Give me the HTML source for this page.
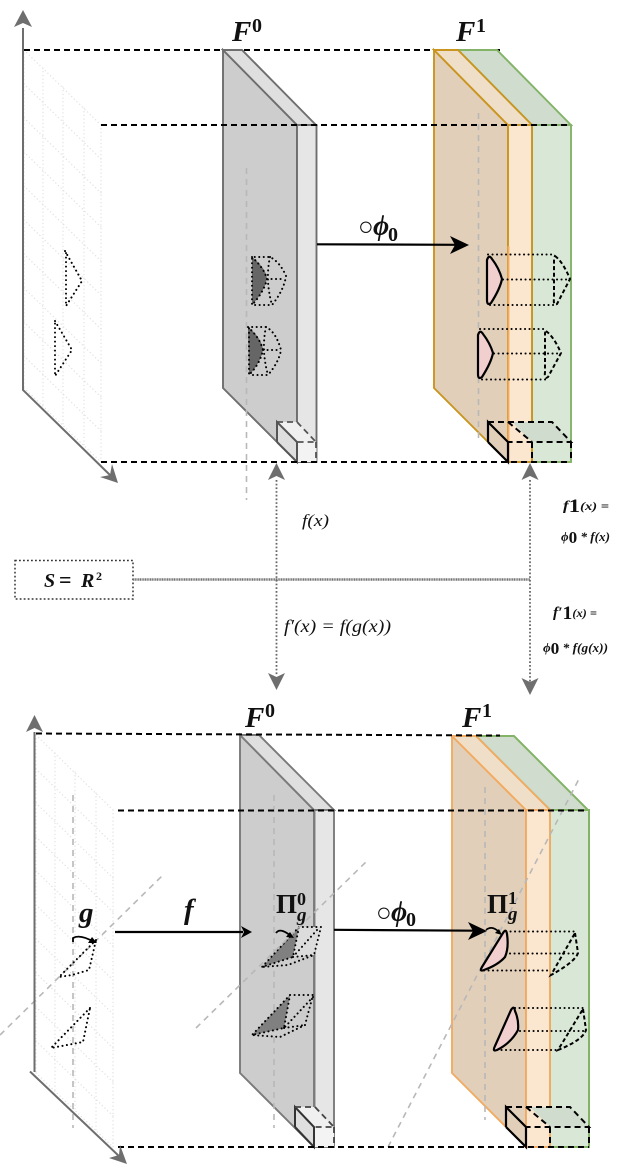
<!DOCTYPE html>
<html>
<head>
<meta charset="utf-8">
<style>
html,body{margin:0;padding:0;background:#fff}
svg{display:block}
text{font-family:"Liberation Serif","DejaVu Serif",serif;font-style:italic;fill:#111}
.b{font-weight:bold}
.n{font-style:normal}
.dash{fill:none;stroke:#000;stroke-width:2;stroke-dasharray:6 4}
.dot{fill:none;stroke:#000;stroke-width:2;stroke-dasharray:.1 4.4;stroke-linecap:round}
.sd{fill:none;stroke:#000;stroke-width:2;stroke-dasharray:6 4}
.md{fill:none;stroke:#000;stroke-width:2;stroke-dasharray:4 2.6}
.g{fill:none;stroke:#b8b8b8;stroke-width:1.6;stroke-dasharray:6 5}
.solid{fill:none;stroke:#000;stroke-width:2.2}
.ax{fill:none;stroke:#6e6e6e;stroke-width:2}
.ah{fill:#6e6e6e;stroke:none}
.pk{fill:#f1cfcf;stroke:#000;stroke-width:2.200}
.grid line{stroke:#e0e0e0;stroke-width:1.300;stroke-dasharray:.1 3.6;stroke-linecap:round}
</style>
</head>
<body>
<svg width="640" height="1174" viewBox="0 0 640 1174" xmlns="http://www.w3.org/2000/svg">
<defs>
<g id="grid" class="grid">
<line x1="0" y1="0" x2="0" y2="338"/><line x1="19" y1="18" x2="19" y2="356"/><line x1="39" y1="37" x2="39" y2="376"/><line x1="60" y1="58" x2="60" y2="396"/><line x1="77" y1="75" x2="77" y2="412"/>
<line x1="0" y1="0" x2="77" y2="75"/><line x1="0" y1="34" x2="77" y2="109"/><line x1="0" y1="68" x2="77" y2="143"/><line x1="0" y1="102" x2="77" y2="177"/><line x1="0" y1="136" x2="77" y2="211"/><line x1="0" y1="170" x2="77" y2="245"/><line x1="0" y1="204" x2="77" y2="279"/><line x1="0" y1="238" x2="77" y2="313"/><line x1="0" y1="272" x2="77" y2="347"/><line x1="0" y1="306" x2="77" y2="381"/><line x1="0" y1="338" x2="77" y2="412"/>
</g>
</defs>

<!-- TOP DIAGRAM -->
<use href="#grid" transform="translate(24,50)"/>
<path class="dash" d="M24 50H500"/>

<!-- F0 top -->
<polygon points="223,50 297,125 297,462 223,388" fill="#cdcdcd" stroke="#6e6e6e" stroke-width="1.900"/>
<polygon points="223,50 242,50 316,125 297,125" fill="#dfdfdf" stroke="#6e6e6e" stroke-width="1.900"/>
<rect x="297" y="125" width="19.500" height="337" fill="#e6e6e6" stroke="#6e6e6e" stroke-width="1.900"/>
<!-- F0 cube -->
<polygon points="277,422 297,422 316,442 297,442" fill="#f0f0f0"/>
<polygon points="277,422 297,442 297,462 277,442" fill="#dfdfdf"/>
<rect x="297" y="442" width="19.500" height="20" fill="#f3f3f3"/>
<path d="M277 442V422L297 442V462L277 442" fill="none" stroke="#555" stroke-width="2"/>
<path d="M277 422H297L316 442H297M316 442V462" fill="none" stroke="#555" stroke-width="1.800" stroke-dasharray="6 4"/>
<path class="g" d="M246.500 168V500"/>
<!-- F0 marks -->
<path d="M252 257Q266 268 267 279Q264 292 252 305Z" fill="#666"/>
<path class="dot" d="M252 257Q264 268 267 279Q264 292 252 305V257H270Q280 262 286 276Q284 290 272 305H252M267 279H285M270 257Q265 280 272 305"/>
<path d="M248 327Q262 338 263 350Q260 364 249 375Z" fill="#666"/>
<path class="dot" d="M248 327Q260 338 263 350Q260 364 249 375V327H266Q276 332 281 350Q279 362 268 375H249M263 350H280M266 327Q261 350 268 375"/>

<!-- F1 top -->
<polygon points="458,50 497,50 571,125 532,125" fill="#d0dccd" stroke="#82b366" stroke-width="1.900"/>
<rect x="532" y="125" width="39" height="337" fill="#d9e8d6" stroke="#82b366" stroke-width="1.900"/>
<polygon points="434,50 508,125 508,462 434,388" fill="#e1cfba" stroke="#c9951f" stroke-width="1.900"/>
<polygon points="434,50 458,50 532,125 508,125" fill="#f0dfc8" stroke="#c9951f" stroke-width="1.900"/>
<rect x="508" y="125" width="24" height="337" fill="#fbe6d0" stroke="#c9951f" stroke-width="1.900"/>
<path d="M508.500 246V462" stroke="#f5ab5f" stroke-width="1.900" fill="none"/>
<polygon points="552,422 571,442 532,442 512,422" fill="#d0dccd"/>
<polygon points="488,422 508,442 508,462 488,442" fill="#e1cfba"/>
<path d="M488 442V422L508 442V462L488 442" class="solid"/>
<path class="sd" d="M488 422H552L571 442H508M571 442V462M532 442V462M508 422L532 442"/>
<path class="g" d="M478.500 113V442"/>
<!-- F1 marks -->
<path class="pk" d="M487 260Q489 254 492 259Q499 268 502 279Q500 289 491 303Q487 306 487 300Z"/>
<path class="pk" d="M478 335Q480 329 483 334Q490 343 493 353Q491 363 482 377Q478 380 478 374Z"/>
<path class="dot" d="M488 254.500H555M503 279.500H570M490 305H555"/>
<path class="dot" d="M480 329H546M494 353.500H561M482 379.500H546"/>
<path class="md" d="M555 256Q563 262 570 279L557 304Q553 306 554 298V258Z"/>
<path class="md" d="M546 331Q554 337 561 353L548 377Q544 380 545 372V333Z"/>

<path class="dash" d="M101 125H570"/>
<path class="dash" d="M101 462H571"/>

<!-- top left axes -->
<path class="ax" d="M23 28V390L112 477"/>
<polygon class="ah" points="23,10 32,27 23,23 14,27"/>
<polygon class="ah" points="118,483 100,477 110,475 112,464"/>
<path class="dot" d="M65 251L82 281L66 306V251"/>
<path class="dot" d="M55 321L72 350L55 376V321"/>

<!-- top arrow -->
<path d="M317 244.300L458 244.800" stroke="#000" stroke-width="2.200"/>
<polygon points="469,245 450,236 455,245 450,254" fill="#000"/>
<text x="358" y="235" font-size="26" class="n">○</text>
<text x="373" y="235" font-size="28" class="b">ϕ</text>
<text x="388" y="241" font-size="20" class="n b">0</text>

<text x="232" y="41" font-size="29" class="b">F</text>
<text x="252" y="32" font-size="20" class="n b">0</text>
<text x="456" y="41" font-size="29" class="b">F</text>
<text x="476" y="32" font-size="20" class="n b">1</text>

<!-- middle section -->
<rect x="15" y="560.500" width="118" height="38.500" fill="#fff" stroke="#333" stroke-width="1.500" stroke-dasharray="1.800 2.200"/>
<text x="44" y="587" font-size="20" class="b">S</text>
<text x="59" y="587" font-size="22" class="n b">=</text>
<text x="81" y="587" font-size="20" class="b">R</text>
<text x="96" y="580" font-size="12" class="n b">2</text>
<path d="M133 579.500H530" stroke="#777" stroke-width="2.500" stroke-dasharray="1.200 .5"/>
<path d="M276.500 480V675M530 480V682" stroke="#666" stroke-width="1.800" stroke-dasharray="1.700 2" fill="none"/>
<polygon class="ah" points="276.500,463 285,480 276.500,476 268,480"/>
<polygon class="ah" points="530,463 538.500,480 530,476 521.500,480"/>
<polygon class="ah" points="276.500,690 268,673 276.500,677 285,673"/>
<polygon class="ah" points="530,695 521.500,678 530,682 538.500,678"/>

<text x="302" y="526" font-size="17" textLength="27" lengthAdjust="spacingAndGlyphs">f(x)</text>
<text x="284" y="632" font-size="18" textLength="107" lengthAdjust="spacingAndGlyphs">f′(x) = f(g(x))</text>
<text x="563" y="510" font-size="14" class="b" textLength="46" lengthAdjust="spacingAndGlyphs">f<tspan font-size="19" dy="2" class="n">1</tspan><tspan dy="-2" font-size="12">(x) =</tspan></text>
<text x="561" y="541" font-size="13" class="b" textLength="49" lengthAdjust="spacingAndGlyphs">ϕ<tspan font-size="17" dy="2" class="n">0</tspan><tspan dy="-2"> * f(x)</tspan></text>
<text x="553" y="617" font-size="15" class="b" textLength="44" lengthAdjust="spacingAndGlyphs">f′<tspan font-size="19" dy="2" class="n">1</tspan><tspan dy="-2" font-size="12">(x) =</tspan></text>
<text x="543" y="652" font-size="13" class="b" textLength="65" lengthAdjust="spacingAndGlyphs">ϕ<tspan font-size="17" dy="2" class="n">0</tspan><tspan dy="-2"> * f(g(x))</tspan></text>

<!-- BOTTOM DIAGRAM -->
<use href="#grid" transform="translate(36,735)"/>
<path class="g" d="M73 795V1128"/>

<!-- F0 bottom -->
<polygon points="240,735 314,810 314,1147 240,1073" fill="#cdcdcd" stroke="#7a7a7a" stroke-width="1.900"/>
<polygon points="240,735 259,735 334,810 314,810" fill="#dfdfdf" stroke="#7a7a7a" stroke-width="1.900"/>
<rect x="314.500" y="810" width="19.500" height="337" fill="#e6e6e6" stroke="#7a7a7a" stroke-width="1.900"/>
<polygon points="295,1107 314,1107 334,1127 314,1127" fill="#f0f0f0"/>
<polygon points="295,1107 314,1127 314,1147 295,1127" fill="#dfdfdf"/>
<rect x="314.500" y="1127" width="19.500" height="20" fill="#f3f3f3"/>
<path d="M295 1127V1107L314 1127V1147L295 1127" fill="none" stroke="#333" stroke-width="2"/>
<path d="M295 1107H315L334 1127H314M334 1127V1147" fill="none" stroke="#444" stroke-width="1.800" stroke-dasharray="6 4"/>
<path class="g" d="M274 795V1128"/>
<!-- F0 marks -->
<polygon points="299,927 293,957 262,967" fill="#808080"/>
<polygon points="299,927 321,927 314,955 293,957" fill="#dcdcdc"/>
<path class="dot" d="M299 927L262 967L293 957L299 927H321L314 955L288 965L262 967M293 957L314 955M317 930L292 958"/>
<polygon points="290,995 284,1028 252,1035" fill="#808080"/>
<path class="dot" d="M290 995L252 1035L284 1028L290 995H313L305 1025L280 1037L252 1035M284 1028L305 1025M313 997L284 1028"/>

<!-- F1 bottom -->
<polygon points="476,736 514,736 588,810 550,810" fill="#d0dccd" stroke="#82b366" stroke-width="2"/>
<rect x="550" y="810" width="39" height="337" fill="#d9e8d6" stroke="#82b366" stroke-width="2"/>
<polygon points="452,736 526,810 526,1147 452,1073" fill="#e1cfba" stroke="#f2ab62" stroke-width="1.900"/>
<polygon points="452,736 476,736 550,810 526,810" fill="#f0dfc8" stroke="#f2ab62" stroke-width="1.900"/>
<rect x="526" y="810" width="24" height="337" fill="#fbe6d0" stroke="#f2ab62" stroke-width="1.900"/>
<polygon points="570,1107 589,1127 550,1127 530,1107" fill="#d0dccd"/>
<polygon points="506,1107 526,1127 526,1147 506,1127" fill="#e1cfba"/>
<path d="M506 1127V1107L526 1127V1147L506 1127" class="solid"/>
<path class="sd" d="M506 1107H570L589 1127H526M589 1127V1147M550 1127V1147M526 1107L550 1127"/>
<path class="g" d="M485 787V1120"/>

<!-- diagonals -->
<path class="g" d="M0 1035L164 874"/>
<path class="g" d="M196 1028L369 859"/>
<path class="g" d="M388 1147L580 777"/>

<!-- F1 marks bottom -->
<path class="pk" d="M503 933Q506 928 507 934Q509 948 505 957Q498 965 484 970Q479 972 482 967Z"/>
<path class="pk" d="M511 1010Q514 1005 515 1011Q519 1020 518 1030Q511 1043 497 1050Q492 1052 495 1046Z"/>
<path class="dot" d="M506 931.500H574M510 953.500H578M484 970.500H551"/>
<path class="dot" d="M515 1008H587M520 1031H585M497 1050H558"/>
<path class="md" d="M575 933L578 953Q575 962 551 975L575 933"/>
<path class="md" d="M583 1009L586 1030Q583 1040 558 1050L583 1009"/>

<path class="dash" d="M36 733.500L500 735.500"/>
<path class="dash" d="M118 810.500H588"/>
<path class="dash" d="M118 1147H589"/>

<!-- bottom left axes -->
<path class="ax" d="M34.500 732V1072M30 1071.500L121 1158"/>
<polygon class="ah" points="34.500,715 43,732 34.500,728 26,732"/>
<polygon class="ah" points="127,1164 109,1158 119,1155 120,1145"/>
<path class="dot" d="M96 940L59 977L72 975L89 970L96 940"/>
<path class="dot" d="M90 1008L51 1048L83 1042L90 1008"/>

<!-- bottom arrows -->
<path d="M115 932H243" stroke="#000" stroke-width="2.200"/>
<polygon points="252,932 241,926 244,932 241,938" fill="#000"/>
<path d="M334 929.800L476 930.700" stroke="#000" stroke-width="2.200"/>
<polygon points="487,931 468,922 473,931 468,940" fill="#000"/>
<path d="M73 942V938Q80 934 94 942" fill="none" stroke="#000" stroke-width="1.800"/>
<polygon points="97,943 88,943 92,937" fill="#000"/>
<path d="M276 933Q280 927 291 936" fill="none" stroke="#000" stroke-width="1.800"/>
<polygon points="294,938 286,937 290,932" fill="#000"/>
<path d="M486 930Q492 925 499 932" fill="none" stroke="#000" stroke-width="1.700"/>
<polygon points="502,935 495,933 499,929" fill="#000"/>

<text x="245" y="727" font-size="29" class="b">F</text>
<text x="265" y="717" font-size="20" class="n b">0</text>
<text x="462" y="727" font-size="29" class="b">F</text>
<text x="482" y="717" font-size="20" class="n b">1</text>
<text x="79" y="922" font-size="29" class="b">g</text>
<text x="184" y="919" font-size="29" class="b">f</text>
<text x="276" y="913" font-size="27" class="n b">Π</text>
<text x="297" y="905" font-size="18" class="n b">0</text>
<text x="297" y="921" font-size="19" class="b">g</text>
<text x="487" y="913" font-size="27" class="n b">Π</text>
<text x="508" y="904" font-size="18" class="n b">1</text>
<text x="508" y="920" font-size="19" class="b">g</text>
<text x="376" y="921" font-size="26" class="n">○</text>
<text x="391" y="921" font-size="28" class="b">ϕ</text>
<text x="406" y="926" font-size="20" class="n b">0</text>
</svg>
</body>
</html>
